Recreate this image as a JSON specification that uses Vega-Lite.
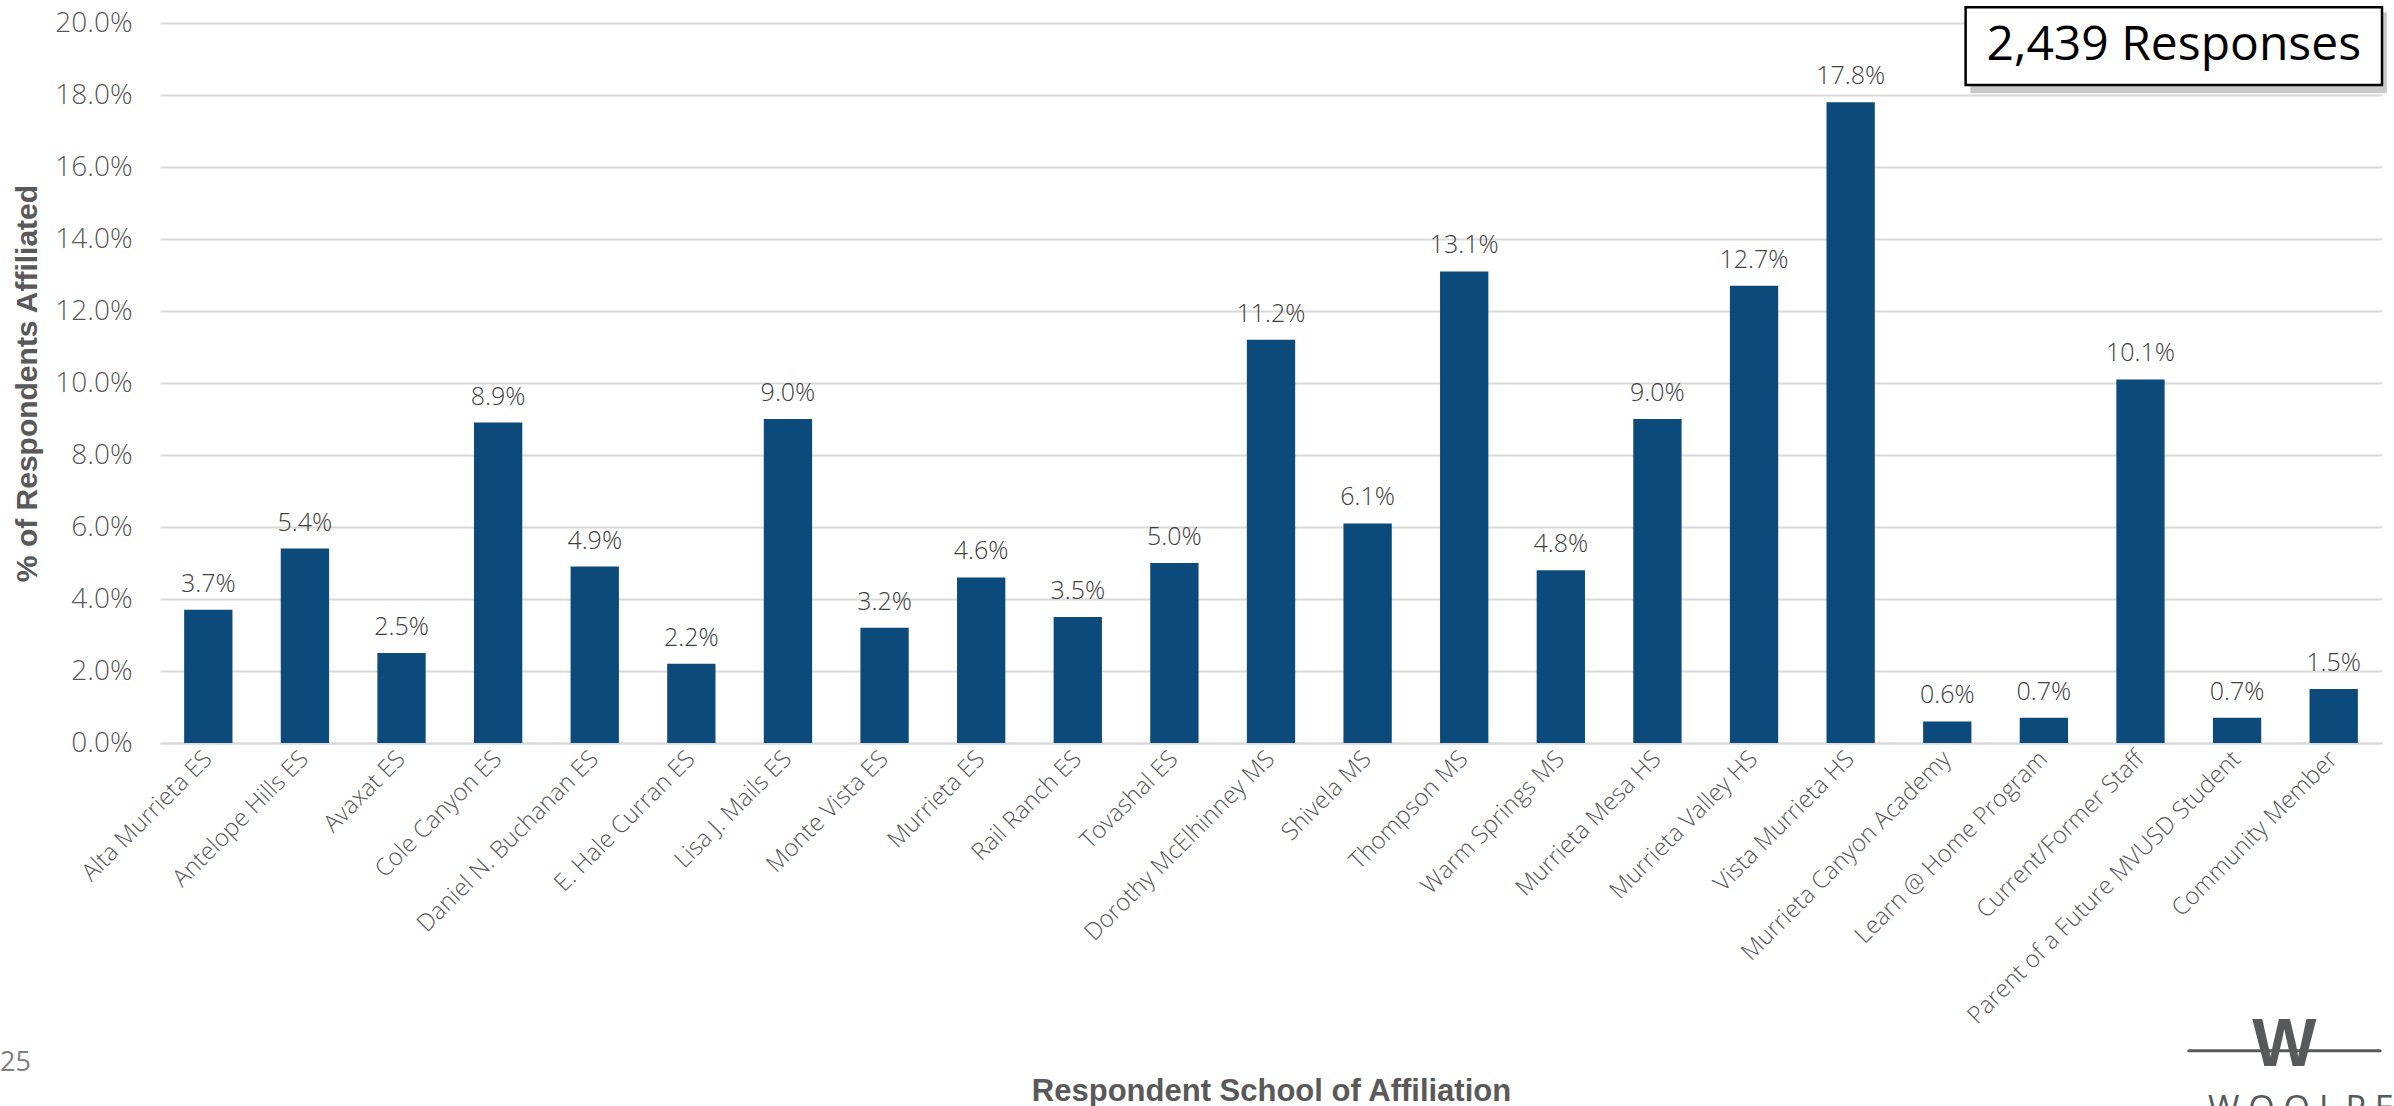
{
  "$schema": "https://vega.github.io/schema/vega-lite/v6.json",
  "width": 2222,
  "height": 720,
  "autosize": {"type": "none"},
  "padding": {"left": 160, "top": 23, "right": 12, "bottom": 363},
  "background": "white",
  "config": {
    "view": {"stroke": null},
    "font": "Open Sans"
  },
  "datasets": {
    "schools": [
      {"school": "Alta Murrieta ES", "pct": 0.037},
      {"school": "Antelope Hills ES", "pct": 0.054},
      {"school": "Avaxat ES", "pct": 0.025},
      {"school": "Cole Canyon ES", "pct": 0.089},
      {"school": "Daniel N. Buchanan ES", "pct": 0.049},
      {"school": "E. Hale Curran ES", "pct": 0.022},
      {"school": "Lisa J. Mails ES", "pct": 0.090},
      {"school": "Monte Vista ES", "pct": 0.032},
      {"school": "Murrieta ES", "pct": 0.046},
      {"school": "Rail Ranch ES", "pct": 0.035},
      {"school": "Tovashal ES", "pct": 0.050},
      {"school": "Dorothy McElhinney MS", "pct": 0.112},
      {"school": "Shivela MS", "pct": 0.061},
      {"school": "Thompson MS", "pct": 0.131},
      {"school": "Warm Springs MS", "pct": 0.048},
      {"school": "Murrieta Mesa HS", "pct": 0.090},
      {"school": "Murrieta Valley HS", "pct": 0.127},
      {"school": "Vista Murrieta HS", "pct": 0.178},
      {"school": "Murrieta Canyon Academy", "pct": 0.006},
      {"school": "Learn @ Home Program", "pct": 0.007},
      {"school": "Current/Former Staff", "pct": 0.101},
      {"school": "Parent of a Future MVUSD Student", "pct": 0.007},
      {"school": "Community Member", "pct": 0.015}
    ],
    "notes": [
      {"label": "2,439 Responses", "page": "25", "logo": "W", "brand": "W O O L P E R T"}
    ]
  },
  "layer": [
    {
      "data": {"name": "schools"},
      "encoding": {
        "x": {
          "field": "school",
          "type": "nominal",
          "sort": null,
          "scale": {"paddingInner": 0.5, "paddingOuter": 0.25},
          "axis": {
            "title": "Respondent School of Affiliation",
            "titleFont": "Liberation Sans",
            "titleFontWeight": "bold",
            "titleFontSize": 31,
            "titleColor": "#595959",
            "titleY": 357,
            "titleBaseline": "alphabetic",
            "labelAngle": -45,
            "labelAlign": "right",
            "labelBaseline": "middle",
            "labelFontSize": 24,
            "labelFontWeight": 300,
            "labelColor": "#595959",
            "labelLimit": 800,
            "labelPadding": 12,
            "ticks": false,
            "tickSize": 0,
            "domainColor": "#D9D9D9",
            "domainWidth": 2
          }
        },
        "y": {
          "field": "pct",
          "type": "quantitative",
          "scale": {"domain": [0, 0.2], "nice": false},
          "axis": {
            "title": "% of Respondents Affiliated",
            "titleFont": "Liberation Sans",
            "titleFontWeight": "bold",
            "titleFontSize": 30,
            "titleColor": "#595959",
            "titleX": -133,
            "titleBaseline": "middle",
            "format": ".1%",
            "values": [0, 0.02, 0.04, 0.06, 0.08, 0.1, 0.12, 0.14, 0.16, 0.18, 0.2],
            "labelFontSize": 28,
            "labelFontWeight": 300,
            "labelColor": "#595959",
            "labelPadding": 28,
            "ticks": false,
            "tickSize": 0,
            "domain": false,
            "gridColor": "#D9D9D9",
            "gridWidth": 2
          }
        }
      },
      "layer": [
        {"mark": {"type": "bar", "color": "#0B4A7B"}},
        {
          "mark": {"type": "text", "baseline": "alphabetic", "dy": -18, "fontSize": 25, "fontWeight": 300, "color": "#404040"},
          "encoding": {
            "text": {"field": "pct", "type": "quantitative", "format": ".1%"}
          }
        }
      ]
    },
    {
      "data": {"name": "notes"},
      "layer": [
        {
          "mark": {"type": "rect", "fill": "#A6A6A6", "opacity": 0.6},
          "encoding": {
            "x": {"datum": 18.74, "type": "quantitative", "scale": {"domain": [0, 23], "nice": false, "zero": false}, "axis": null},
            "x2": {"datum": 23.05},
            "y": {"datum": 0.2030, "type": "quantitative"},
            "y2": {"datum": 0.1805}
          }
        },
        {
          "mark": {"type": "rect", "fill": "white", "stroke": "#000000", "strokeWidth": 2.5},
          "encoding": {
            "x": {"datum": 18.69, "type": "quantitative"},
            "x2": {"datum": 23.0},
            "y": {"datum": 0.2044, "type": "quantitative"},
            "y2": {"datum": 0.1828}
          }
        },
        {
          "mark": {"type": "text", "fontSize": 48, "color": "#000000", "align": "center", "baseline": "middle"},
          "encoding": {
            "x": {"datum": 20.845, "type": "quantitative"},
            "y": {"datum": 0.1936, "type": "quantitative"},
            "text": {"field": "label"}
          }
        },
        {
          "mark": {"type": "text", "fontSize": 27, "color": "#7F7F7F", "align": "left", "baseline": "middle"},
          "encoding": {
            "x": {"datum": -1.656, "type": "quantitative"},
            "y": {"datum": -0.0889, "type": "quantitative"},
            "text": {"field": "page"}
          }
        },
        {
          "mark": {"type": "rule", "color": "#58595B", "strokeWidth": 3, "strokeCap": "round"},
          "encoding": {
            "x": {"datum": 21.0, "type": "quantitative"},
            "x2": {"datum": 22.98},
            "y": {"datum": -0.0855, "type": "quantitative"}
          }
        },
        {
          "mark": {"type": "text", "font": "Liberation Sans", "fontWeight": "bold", "fontSize": 68, "color": "#58595B", "align": "center", "baseline": "middle"},
          "encoding": {
            "x": {"datum": 21.99, "type": "quantitative"},
            "y": {"datum": -0.0842, "type": "quantitative"},
            "text": {"field": "logo"}
          }
        },
        {
          "mark": {"type": "text", "fontSize": 34, "color": "#58595B", "align": "left", "baseline": "top"},
          "encoding": {
            "x": {"datum": 21.2, "type": "quantitative"},
            "y": {"datum": -0.0972, "type": "quantitative"},
            "text": {"field": "brand"}
          }
        }
      ]
    }
  ],
  "resolve": {"scale": {"x": "independent"}, "axis": {"x": "independent"}}
}
